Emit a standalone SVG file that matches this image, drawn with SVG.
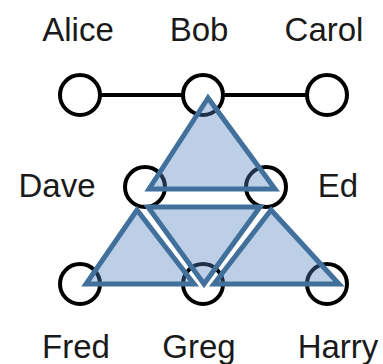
<svg xmlns="http://www.w3.org/2000/svg" width="383" height="364" viewBox="0 0 383 364">
<style>
.lbl{font-family:"Liberation Sans",Arial,sans-serif;font-size:33px;fill:#1a1a1a;text-anchor:middle}
.node{fill:#fff;stroke:#000;stroke-width:4}
.edge{stroke:#000;stroke-width:4;fill:none}
.tri{fill:#4f81bd;fill-opacity:0.38;stroke:#41709c;stroke-width:5;stroke-linejoin:miter}
</style>
<rect width="383" height="364" fill="#fff"/>
<g id="connectors">
<line class="edge" x1="80" y1="95" x2="327" y2="95"/>
</g>
<g id="Alice"><circle class="node" cx="80" cy="95" r="20"/><text class="lbl" x="78" y="41">Alice</text></g>
<g id="Bob"><circle class="node" cx="203" cy="95" r="20"/><text class="lbl" x="199" y="41">Bob</text></g>
<g id="Carol"><circle class="node" cx="327" cy="95" r="20"/><text class="lbl" x="324" y="41">Carol</text></g>
<g id="Dave"><circle class="node" cx="145" cy="187" r="20"/><text class="lbl" x="57" y="197">Dave</text></g>
<g id="Ed"><circle class="node" cx="266" cy="187" r="20"/><text class="lbl" x="338" y="197">Ed</text></g>
<g id="Fred"><circle class="node" cx="80" cy="284" r="20"/><text class="lbl" x="76" y="358">Fred</text></g>
<g id="Greg"><circle class="node" cx="203" cy="284" r="20"/><text class="lbl" x="199" y="358">Greg</text></g>
<g id="Harry"><circle class="node" cx="327" cy="284" r="20"/><text class="lbl" x="338" y="358">Harry</text></g>
<g id="triangles">
<polygon class="tri" points="208,98 149,189 275,189"/>
<polygon class="tri" points="148,207 260,207 204,284"/>
<polygon class="tri" points="137,210 86,284 194,284"/>
<polygon class="tri" points="271,210 214,284 339,284"/>
</g>
</svg>
